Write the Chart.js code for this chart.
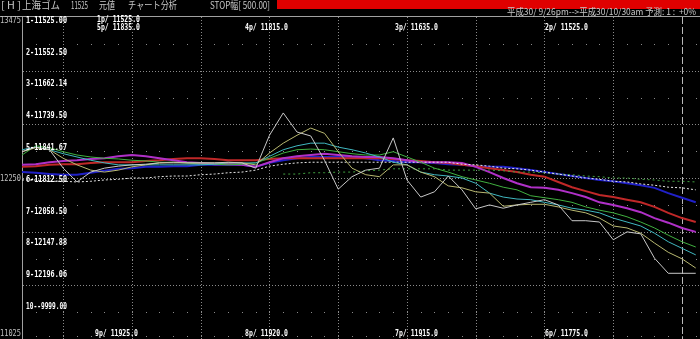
<!DOCTYPE html>
<html><head><meta charset="utf-8">
<script src="https://cdn.jsdelivr.net/npm/chart.js@4.4.1/dist/chart.umd.min.js"></script>
<style>html,body{margin:0;padding:0;background:#000;overflow:hidden}</style>
</head><body>
<canvas id="c" width="700" height="339"></canvas>
<script>
// ---- data (index positions along the time axis) ----
const idx = Array.from({length: 50}, (_, i) => i);
const price   = [12450,12485,12465,12325,12220,12295,12325,12340,12350,12355,12365,12365,12365,12365,12365,12370,12365,12325,12575,12745,12600,12570,12385,12165,12260,12310,12325,12555,12235,12105,12145,12265,12160,12015,12045,12020,12045,12065,12085,12045,11925,11925,11915,11780,11840,11825,11640,11525,11525,11525];
const maYellow= [12450,12480,12465,12400,12350,12310,12295,12310,12335,12350,12365,12370,12365,12365,12365,12365,12365,12350,12440,12515,12575,12630,12590,12450,12325,12275,12260,12350,12350,12295,12260,12190,12175,12145,12135,12035,12045,12050,12050,12030,12005,11985,11945,11885,11870,11830,11755,11685,11635,11565];
const maCyan  = [12465,12485,12465,12435,12410,12385,12365,12350,12350,12350,12350,12350,12350,12350,12355,12365,12365,12365,12415,12465,12495,12515,12515,12485,12465,12440,12410,12370,12350,12295,12275,12265,12250,12210,12135,12105,12090,12085,12065,12045,12020,12005,11985,11945,11915,11885,11830,11765,11715,11665];
const maGreen = [12425,12495,12480,12450,12425,12410,12400,12395,12385,12380,12370,12370,12365,12355,12355,12350,12355,12365,12400,12440,12465,12470,12465,12450,12435,12425,12425,12450,12410,12370,12325,12295,12260,12235,12210,12180,12160,12115,12100,12085,12065,12030,12005,11985,11955,11915,11870,11815,11765,11725];
const maPurple= [12350,12355,12370,12380,12385,12395,12400,12415,12425,12415,12400,12385,12370,12365,12355,12355,12350,12335,12370,12400,12415,12425,12435,12425,12415,12410,12410,12400,12385,12370,12370,12370,12365,12335,12295,12250,12210,12180,12175,12160,12135,12105,12065,12045,12020,11990,11945,11910,11870,11840];
const maRed   = [12335,12340,12350,12355,12355,12365,12370,12370,12370,12380,12385,12395,12400,12400,12395,12385,12385,12385,12395,12400,12400,12400,12400,12400,12400,12400,12400,12395,12385,12380,12370,12365,12350,12340,12325,12310,12295,12275,12260,12220,12180,12150,12120,12105,12085,12065,12030,11985,11945,11915];
const maBlue  = [12295,12290,12280,12275,12275,12290,12305,12320,12325,12335,12335,12340,12340,12350,12350,12350,12350,12335,12365,12385,12400,12410,12410,12410,12410,12400,12385,12380,12370,12370,12365,12355,12350,12340,12335,12335,12325,12310,12295,12280,12265,12250,12235,12225,12210,12195,12175,12135,12100,12065];
const maWhiteDot = [12235,12235,12225,12225,12220,12225,12235,12240,12250,12250,12260,12265,12265,12275,12280,12290,12295,12310,12340,12355,12365,12370,12370,12370,12370,12370,12370,12370,12370,12370,12370,12370,12355,12350,12340,12325,12320,12310,12295,12280,12265,12250,12240,12225,12220,12205,12195,12180,12175,12160];
const maGreenDot = [null,null,null,null,null,null,null,null,null,null,null,null,null,null,null,null,null,null,null,12280,12280,12290,12290,12295,12295,12305,12310,12320,12320,12320,12320,12310,12310,12310,12310,12305,12295,12295,12290,12280,12275,12265,12260,12250,12250,12240,12235,12225,12225,12220];

const yMin = 11025, yMax = 13475, yMid = 12250;
const sideLabels = ["1-11525.00","2-11552.50","3-11662.14","4-11739.50","5-11841.67","6-11812.50","7-12058.50","8-12147.88","9-12196.06","10--9999.00"];
const topLabels = ["5p/ 11835.0","4p/ 11815.0","3p/ 11635.0","2p/ 11525.0"];
const topFirst = "1p/ 11525.0";
const bottomLabels = ["9p/ 11925.0","8p/ 11920.0","7p/ 11915.0","6p/ 11775.0"];
const headerTitle = ["[ H ]","上海ゴム","11525","元値","チャート分析","STOP幅[ 500.00]"];
const headerRange = "平成30/ 9/26pm-->平成30/10/30am 予測: 1 :  +0%";

function series(arr){ return arr.map((v,i)=> ({x: idx[i], y: v})); }

function txt(ctx, s, x, y, w, font, color){
  ctx.save();
  ctx.font = font; ctx.fillStyle = color; ctx.textBaseline = 'middle'; ctx.textAlign='left';
  const m = ctx.measureText(s).width;
  ctx.translate(x, y);
  ctx.scale(w / m, 1);
  ctx.fillText(s, 0, 0);
  ctx.restore();
}

const decor = {
  id: 'decor',
  beforeDraw(chart){
    const ctx = chart.ctx, xs = chart.scales.x, ys = chart.scales.y, a = chart.chartArea;
    ctx.save();
    ctx.fillStyle = '#000'; ctx.fillRect(0,0,chart.width,chart.height);
    const step = (yMax - yMin) / 12;
    for (let k = 1; k <= 12; k++){
      let py = Math.round(ys.getPixelForValue(yMax - k*step)) + 0.5;
      if (k === 12) py = a.bottom - 2.5;
      if (k % 2 === 0 && k < 12){
        ctx.strokeStyle = '#8a8a8a'; ctx.lineWidth = 1; ctx.setLineDash([1,2]);
        ctx.beginPath(); ctx.moveTo(a.left+1, py); ctx.lineTo(a.right, py); ctx.stroke();
      } else {
        ctx.fillStyle = '#8a8a8a';
        idx.forEach(i => { const px = Math.round(xs.getPixelForValue(i)); ctx.fillRect(px, py-0.5, 1, 1); });
      }
    }
    ctx.strokeStyle = '#8a8a8a'; ctx.setLineDash([1,2]);
    for (let i = 3; i <= 43; i += 5){
      const px = Math.round(xs.getPixelForValue(i)) + 0.5;
      ctx.beginPath(); ctx.moveTo(px, a.top); ctx.lineTo(px, a.bottom); ctx.stroke();
    }
    ctx.strokeStyle = '#b8b8b8'; ctx.setLineDash([7,3]);
    const pe = Math.round(xs.getPixelForValue(48)) + 0.5;
    ctx.beginPath(); ctx.moveTo(pe, a.top); ctx.lineTo(pe, a.bottom); ctx.stroke();
    ctx.setLineDash([]);
    ctx.strokeStyle = '#a0a0a0';
    ctx.beginPath(); ctx.moveTo(0, a.top-0.5); ctx.lineTo(chart.width, a.top-0.5); ctx.stroke();
    ctx.beginPath(); ctx.moveTo(a.left+0.5, a.top); ctx.lineTo(a.left+0.5, a.bottom); ctx.stroke();
    ctx.restore();
  },
  afterDraw(chart){
    const ctx = chart.ctx, ys = chart.scales.y;
    const lf = "bold 9px 'DejaVu Sans Mono'";
    const pf = "bold 8px 'DejaVu Sans Mono'";
    const gf = "9px 'DejaVu Sans Mono'";
    ctx.save();
    ctx.fillStyle = '#e00000'; ctx.fillRect(277, 0, 423, 9);
    ctx.restore();
    const hf = "10px 'Noto Sans CJK JP'";
    const hx = [1,22,71,99,128,210], hw = [20,38,17,16,49,60];
    headerTitle.forEach((s,i)=> txt(ctx, s, hx[i], 5, hw[i], hf, '#c8c8c8'));
    txt(ctx, headerRange, 507, 12, 189, "9px 'Noto Sans CJK JP'", '#c8c8c8');
    txt(ctx, String(yMax), 0, Math.round(ys.getPixelForValue(yMax))+4, 21, gf, '#c0c0c0');
    txt(ctx, String(yMid), 0, Math.round(ys.getPixelForValue(yMid))+1, 21, gf, '#c0c0c0');
    txt(ctx, String(yMin), 0, Math.round(ys.getPixelForValue(yMin))-5, 21, gf, '#c0c0c0');
    const sy = [21,53,84,116,148,180,212,243,275,307];
    sideLabels.forEach((s,i)=> txt(ctx, s, 26, sy[i], 41, lf, '#ffffff'));
    txt(ctx, topFirst, 97, 20, 43, pf, '#ffffff');
    const tx = [97,245,395,545];
    topLabels.forEach((s,i)=> txt(ctx, s, tx[i], 28, 43, pf, '#ffffff'));
    const bx = [95,245,395,545];
    bottomLabels.forEach((s,i)=> txt(ctx, s, bx[i], 334, 43, lf, '#ffffff'));
  }
};

function ds(label, arr, color, width, dash){
  return { label, data: series(arr), borderColor: color, borderWidth: width, borderDash: dash || [],
           pointRadius: 0, tension: 0, fill: false, spanGaps: false };
}

new Chart(document.getElementById('c'), {
  type: 'line',
  data: { datasets: [
    ds('price', price, '#c8c8c8', 1),
    ds('yellow', maYellow, '#b8b870', 1),
    ds('cyan', maCyan, '#40b8c0', 1),
    ds('green', maGreen, '#40b040', 1),
    ds('whiteDot', maWhiteDot, '#e8e8e8', 1, [2,2]),
    ds('greenDot', maGreenDot, '#40a040', 1, [2,3]),
    ds('purple', maPurple, '#b030c8', 2),
    ds('red', maRed, '#c02828', 2),
    ds('blue', maBlue, '#2020c8', 2)
  ]},
  options: {
    responsive: false, animation: false, devicePixelRatio: 1,
    layout: { padding: { left: 22, top: 17, right: 0, bottom: 0 } },
    plugins: { legend: { display: false }, tooltip: { enabled: false } },
    scales: {
      x: { type: 'linear', display: false, min: 0, max: 49.31 },
      y: { type: 'linear', display: false, min: yMin, max: yMax }
    }
  },
  plugins: [decor]
});
</script>
</body></html>
